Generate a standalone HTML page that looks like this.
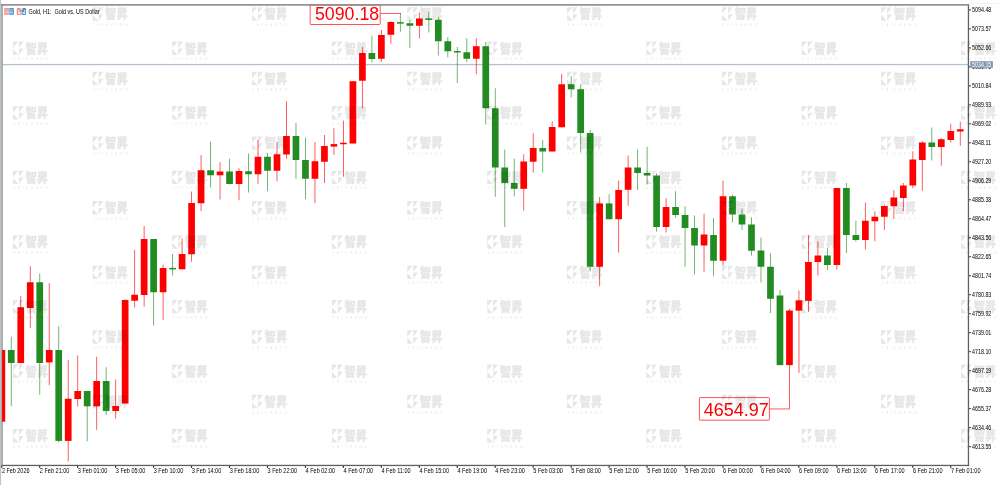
<!DOCTYPE html>
<html lang="zh"><head><meta charset="utf-8"><title>Gold, H1: Gold vs. US Dollar</title>
<style>html,body{margin:0;padding:0;background:#fff;overflow:hidden}body{width:999px;height:485px;position:relative}svg{display:block;position:absolute;left:0;top:0}text{font-family:"Liberation Sans", sans-serif}.ax{fill:#000}.wm text{font-family:"Liberation Sans", "Noto Sans CJK SC", sans-serif}.wk{fill:#000;opacity:0.096}.zh{font-size:11.2px;font-weight:900;stroke:#000;stroke-width:0.4px;stroke-linejoin:miter}.en{font-size:3.5px;fill:#000;fill-opacity:0.11}</style></head><body>
<svg width="999" height="485" viewBox="0 0 999 485">
<rect width="999" height="485" fill="#fff"/>
<rect x="3" y="63.9" width="965" height="1.3" fill="#b5c1cf"/>
<g id="candles">
<rect x="1.33" y="350" width="0.9" height="71.7" fill="#ff0000" fill-opacity="0.7"/>
<rect x="10.82" y="336.8" width="0.9" height="69.5" fill="#228b22" fill-opacity="0.7"/>
<rect x="7.92" y="350" width="6.7" height="13" fill="#228b22"/>
<rect x="20.31" y="296" width="0.9" height="67.5" fill="#ff0000" fill-opacity="0.7"/>
<rect x="17.41" y="307.25" width="6.7" height="55.75" fill="#ff0000"/>
<rect x="29.8" y="266" width="0.9" height="62" fill="#ff0000" fill-opacity="0.7"/>
<rect x="26.9" y="282.25" width="6.7" height="25.75" fill="#ff0000"/>
<rect x="39.29" y="273.5" width="0.9" height="121.25" fill="#228b22" fill-opacity="0.7"/>
<rect x="36.39" y="282.25" width="6.7" height="80.75" fill="#228b22"/>
<rect x="48.78" y="283" width="0.9" height="102.25" fill="#ff0000" fill-opacity="0.7"/>
<rect x="45.88" y="350" width="6.7" height="12.4" fill="#ff0000"/>
<rect x="58.27" y="326.25" width="0.9" height="116.15" fill="#228b22" fill-opacity="0.7"/>
<rect x="55.37" y="350" width="6.7" height="90.9" fill="#228b22"/>
<rect x="67.76" y="360" width="0.9" height="101.5" fill="#ff0000" fill-opacity="0.7"/>
<rect x="64.86" y="398.75" width="6.7" height="42.15" fill="#ff0000"/>
<rect x="77.25" y="355.5" width="0.9" height="51" fill="#ff0000" fill-opacity="0.7"/>
<rect x="74.35" y="391" width="6.7" height="8" fill="#ff0000"/>
<rect x="86.74" y="391" width="0.9" height="50.4" fill="#228b22" fill-opacity="0.7"/>
<rect x="83.84" y="391" width="6.7" height="15.3" fill="#228b22"/>
<rect x="96.23" y="356.75" width="0.9" height="73.15" fill="#ff0000" fill-opacity="0.7"/>
<rect x="93.33" y="381" width="6.7" height="25.3" fill="#ff0000"/>
<rect x="105.72" y="367.25" width="0.9" height="47.75" fill="#228b22" fill-opacity="0.7"/>
<rect x="102.82" y="381" width="6.7" height="30" fill="#228b22"/>
<rect x="115.21" y="379.5" width="0.9" height="39.2" fill="#ff0000" fill-opacity="0.7"/>
<rect x="112.31" y="406" width="6.7" height="5" fill="#ff0000"/>
<rect x="124.7" y="299.25" width="0.9" height="104.25" fill="#ff0000" fill-opacity="0.7"/>
<rect x="121.8" y="300" width="6.7" height="103.5" fill="#ff0000"/>
<rect x="134.19" y="249.75" width="0.9" height="57.75" fill="#ff0000" fill-opacity="0.7"/>
<rect x="131.29" y="294.75" width="6.7" height="6" fill="#ff0000"/>
<rect x="143.68" y="226" width="0.9" height="80.75" fill="#ff0000" fill-opacity="0.7"/>
<rect x="140.78" y="239" width="6.7" height="56" fill="#ff0000"/>
<rect x="153.17" y="239" width="0.9" height="86.5" fill="#228b22" fill-opacity="0.7"/>
<rect x="150.27" y="239" width="6.7" height="53.25" fill="#228b22"/>
<rect x="162.66" y="264.75" width="0.9" height="55" fill="#ff0000" fill-opacity="0.7"/>
<rect x="159.76" y="268" width="6.7" height="24.25" fill="#ff0000"/>
<rect x="172.15" y="254" width="0.9" height="21.5" fill="#228b22" fill-opacity="0.7"/>
<rect x="169.25" y="267.88" width="6.7" height="1.5" fill="#228b22"/>
<rect x="181.64" y="238.5" width="0.9" height="30.75" fill="#ff0000" fill-opacity="0.7"/>
<rect x="178.74" y="254" width="6.7" height="15.25" fill="#ff0000"/>
<rect x="191.13" y="191.5" width="0.9" height="70.25" fill="#ff0000" fill-opacity="0.7"/>
<rect x="188.23" y="203" width="6.7" height="51.25" fill="#ff0000"/>
<rect x="200.62" y="155" width="0.9" height="56" fill="#ff0000" fill-opacity="0.7"/>
<rect x="197.72" y="170.25" width="6.7" height="33" fill="#ff0000"/>
<rect x="210.11" y="141.5" width="0.9" height="46" fill="#228b22" fill-opacity="0.7"/>
<rect x="207.21" y="170.25" width="6.7" height="5" fill="#228b22"/>
<rect x="219.6" y="162" width="0.9" height="37.5" fill="#ff0000" fill-opacity="0.7"/>
<rect x="216.7" y="171.5" width="6.7" height="3.75" fill="#ff0000"/>
<rect x="229.09" y="158.75" width="0.9" height="25.75" fill="#228b22" fill-opacity="0.7"/>
<rect x="226.19" y="171.5" width="6.7" height="12.5" fill="#228b22"/>
<rect x="238.58" y="168.25" width="0.9" height="32" fill="#ff0000" fill-opacity="0.7"/>
<rect x="235.68" y="171" width="6.7" height="13" fill="#ff0000"/>
<rect x="248.07" y="153.5" width="0.9" height="39" fill="#228b22" fill-opacity="0.7"/>
<rect x="245.17" y="171.25" width="6.7" height="3" fill="#228b22"/>
<rect x="257.56" y="140" width="0.9" height="43.75" fill="#ff0000" fill-opacity="0.7"/>
<rect x="254.66" y="156.75" width="6.7" height="17.5" fill="#ff0000"/>
<rect x="267.05" y="153" width="0.9" height="38.25" fill="#228b22" fill-opacity="0.7"/>
<rect x="264.15" y="156.75" width="6.7" height="14" fill="#228b22"/>
<rect x="276.54" y="142" width="0.9" height="39.25" fill="#ff0000" fill-opacity="0.7"/>
<rect x="273.64" y="154.25" width="6.7" height="16.5" fill="#ff0000"/>
<rect x="286.03" y="101.25" width="0.9" height="57.5" fill="#ff0000" fill-opacity="0.7"/>
<rect x="283.13" y="136" width="6.7" height="18.5" fill="#ff0000"/>
<rect x="295.52" y="123" width="0.9" height="55.75" fill="#228b22" fill-opacity="0.7"/>
<rect x="292.62" y="136" width="6.7" height="24" fill="#228b22"/>
<rect x="305.01" y="137.5" width="0.9" height="61.75" fill="#228b22" fill-opacity="0.7"/>
<rect x="302.11" y="160" width="6.7" height="18.75" fill="#228b22"/>
<rect x="314.5" y="142" width="0.9" height="61" fill="#ff0000" fill-opacity="0.7"/>
<rect x="311.6" y="161.25" width="6.7" height="17.5" fill="#ff0000"/>
<rect x="323.99" y="135" width="0.9" height="48" fill="#ff0000" fill-opacity="0.7"/>
<rect x="321.09" y="146" width="6.7" height="15.75" fill="#ff0000"/>
<rect x="333.48" y="128.25" width="0.9" height="26.75" fill="#ff0000" fill-opacity="0.7"/>
<rect x="330.58" y="144.1" width="6.7" height="2.5" fill="#ff0000"/>
<rect x="342.97" y="120.5" width="0.9" height="56.25" fill="#ff0000" fill-opacity="0.7"/>
<rect x="340.07" y="142.75" width="6.7" height="1.5" fill="#ff0000"/>
<rect x="352.46" y="81.25" width="0.9" height="62.25" fill="#ff0000" fill-opacity="0.7"/>
<rect x="349.56" y="81.25" width="6.7" height="62.25" fill="#ff0000"/>
<rect x="361.95" y="47" width="0.9" height="61.5" fill="#ff0000" fill-opacity="0.7"/>
<rect x="359.05" y="53" width="6.7" height="27.75" fill="#ff0000"/>
<rect x="371.44" y="35.75" width="0.9" height="26.75" fill="#228b22" fill-opacity="0.7"/>
<rect x="368.54" y="53" width="6.7" height="6" fill="#228b22"/>
<rect x="380.93" y="30" width="0.9" height="32" fill="#ff0000" fill-opacity="0.7"/>
<rect x="378.03" y="35" width="6.7" height="23.75" fill="#ff0000"/>
<rect x="390.42" y="21.25" width="0.9" height="22.5" fill="#ff0000" fill-opacity="0.7"/>
<rect x="387.52" y="22" width="6.7" height="12.75" fill="#ff0000"/>
<rect x="399.91" y="13" width="0.9" height="18.75" fill="#228b22" fill-opacity="0.7"/>
<rect x="397.01" y="22.12" width="6.7" height="1.5" fill="#228b22"/>
<rect x="409.4" y="20" width="0.9" height="28.25" fill="#228b22" fill-opacity="0.7"/>
<rect x="406.5" y="23.25" width="6.7" height="2.5" fill="#228b22"/>
<rect x="418.89" y="12.5" width="0.9" height="26" fill="#ff0000" fill-opacity="0.7"/>
<rect x="415.99" y="18.5" width="6.7" height="7.25" fill="#ff0000"/>
<rect x="428.38" y="11.75" width="0.9" height="20.75" fill="#228b22" fill-opacity="0.7"/>
<rect x="425.48" y="18.38" width="6.7" height="1.5" fill="#228b22"/>
<rect x="437.87" y="17" width="0.9" height="38.5" fill="#228b22" fill-opacity="0.7"/>
<rect x="434.97" y="19.75" width="6.7" height="21.5" fill="#228b22"/>
<rect x="447.36" y="37" width="0.9" height="20.5" fill="#228b22" fill-opacity="0.7"/>
<rect x="444.46" y="41.25" width="6.7" height="10" fill="#228b22"/>
<rect x="456.85" y="47" width="0.9" height="36" fill="#228b22" fill-opacity="0.7"/>
<rect x="453.95" y="51" width="6.7" height="1.5" fill="#228b22"/>
<rect x="466.34" y="38.25" width="0.9" height="23.75" fill="#228b22" fill-opacity="0.7"/>
<rect x="463.44" y="52.25" width="6.7" height="6.5" fill="#228b22"/>
<rect x="475.83" y="38.25" width="0.9" height="36" fill="#ff0000" fill-opacity="0.7"/>
<rect x="472.93" y="46.25" width="6.7" height="12.5" fill="#ff0000"/>
<rect x="485.32" y="42" width="0.9" height="82.5" fill="#228b22" fill-opacity="0.7"/>
<rect x="482.42" y="46.25" width="6.7" height="62" fill="#228b22"/>
<rect x="494.81" y="88.25" width="0.9" height="108.5" fill="#228b22" fill-opacity="0.7"/>
<rect x="491.91" y="108.25" width="6.7" height="59.25" fill="#228b22"/>
<rect x="504.3" y="149.5" width="0.9" height="77.5" fill="#228b22" fill-opacity="0.7"/>
<rect x="501.4" y="167.5" width="6.7" height="15.4" fill="#228b22"/>
<rect x="513.79" y="158.75" width="0.9" height="37.65" fill="#228b22" fill-opacity="0.7"/>
<rect x="510.89" y="182.9" width="6.7" height="5.9" fill="#228b22"/>
<rect x="523.28" y="154.25" width="0.9" height="56.5" fill="#ff0000" fill-opacity="0.7"/>
<rect x="520.38" y="161.5" width="6.7" height="27.3" fill="#ff0000"/>
<rect x="532.77" y="133.25" width="0.9" height="39.25" fill="#ff0000" fill-opacity="0.7"/>
<rect x="529.87" y="148" width="6.7" height="13.75" fill="#ff0000"/>
<rect x="542.26" y="140" width="0.9" height="32.5" fill="#228b22" fill-opacity="0.7"/>
<rect x="539.36" y="148" width="6.7" height="3.5" fill="#228b22"/>
<rect x="551.75" y="121.25" width="0.9" height="30.25" fill="#ff0000" fill-opacity="0.7"/>
<rect x="548.85" y="127" width="6.7" height="24.5" fill="#ff0000"/>
<rect x="561.24" y="73.75" width="0.9" height="53.5" fill="#ff0000" fill-opacity="0.7"/>
<rect x="558.34" y="84.25" width="6.7" height="43" fill="#ff0000"/>
<rect x="570.73" y="76.25" width="0.9" height="21.25" fill="#228b22" fill-opacity="0.7"/>
<rect x="567.83" y="84.25" width="6.7" height="5" fill="#228b22"/>
<rect x="580.22" y="84.5" width="0.9" height="68" fill="#228b22" fill-opacity="0.7"/>
<rect x="577.32" y="89.25" width="6.7" height="43.75" fill="#228b22"/>
<rect x="589.71" y="130" width="0.9" height="140.75" fill="#228b22" fill-opacity="0.7"/>
<rect x="586.81" y="133" width="6.7" height="133.75" fill="#228b22"/>
<rect x="599.2" y="197" width="0.9" height="89.25" fill="#ff0000" fill-opacity="0.7"/>
<rect x="596.3" y="203.4" width="6.7" height="63.35" fill="#ff0000"/>
<rect x="608.69" y="194.25" width="0.9" height="25" fill="#228b22" fill-opacity="0.7"/>
<rect x="605.79" y="203.4" width="6.7" height="15.85" fill="#228b22"/>
<rect x="618.18" y="180.5" width="0.9" height="72" fill="#ff0000" fill-opacity="0.7"/>
<rect x="615.28" y="190" width="6.7" height="29.25" fill="#ff0000"/>
<rect x="627.67" y="155.5" width="0.9" height="50.25" fill="#ff0000" fill-opacity="0.7"/>
<rect x="624.77" y="167.5" width="6.7" height="22.25" fill="#ff0000"/>
<rect x="637.16" y="149.5" width="0.9" height="40.5" fill="#228b22" fill-opacity="0.7"/>
<rect x="634.26" y="167.5" width="6.7" height="5.5" fill="#228b22"/>
<rect x="646.65" y="146.75" width="0.9" height="37.75" fill="#228b22" fill-opacity="0.7"/>
<rect x="643.75" y="173" width="6.7" height="2.5" fill="#228b22"/>
<rect x="656.14" y="173.25" width="0.9" height="58.5" fill="#228b22" fill-opacity="0.7"/>
<rect x="653.24" y="175.5" width="6.7" height="51.5" fill="#228b22"/>
<rect x="665.63" y="198.25" width="0.9" height="34.25" fill="#ff0000" fill-opacity="0.7"/>
<rect x="662.73" y="207" width="6.7" height="20" fill="#ff0000"/>
<rect x="675.12" y="191.25" width="0.9" height="26.25" fill="#228b22" fill-opacity="0.7"/>
<rect x="672.22" y="207" width="6.7" height="8" fill="#228b22"/>
<rect x="684.61" y="206.25" width="0.9" height="60.5" fill="#228b22" fill-opacity="0.7"/>
<rect x="681.71" y="215" width="6.7" height="13" fill="#228b22"/>
<rect x="694.1" y="215.5" width="0.9" height="59" fill="#228b22" fill-opacity="0.7"/>
<rect x="691.2" y="228" width="6.7" height="17.5" fill="#228b22"/>
<rect x="703.59" y="213.75" width="0.9" height="58" fill="#ff0000" fill-opacity="0.7"/>
<rect x="700.69" y="234.5" width="6.7" height="11" fill="#ff0000"/>
<rect x="713.08" y="218.25" width="0.9" height="58" fill="#228b22" fill-opacity="0.7"/>
<rect x="710.18" y="235" width="6.7" height="25.75" fill="#228b22"/>
<rect x="722.57" y="180.5" width="0.9" height="85" fill="#ff0000" fill-opacity="0.7"/>
<rect x="719.67" y="196.25" width="6.7" height="64.5" fill="#ff0000"/>
<rect x="732.06" y="194.5" width="0.9" height="28" fill="#228b22" fill-opacity="0.7"/>
<rect x="729.16" y="196.25" width="6.7" height="18.25" fill="#228b22"/>
<rect x="741.55" y="208.75" width="0.9" height="21.25" fill="#228b22" fill-opacity="0.7"/>
<rect x="738.65" y="214.5" width="6.7" height="10" fill="#228b22"/>
<rect x="751.04" y="217.5" width="0.9" height="38" fill="#228b22" fill-opacity="0.7"/>
<rect x="748.14" y="224.5" width="6.7" height="26.25" fill="#228b22"/>
<rect x="760.53" y="237.5" width="0.9" height="45" fill="#228b22" fill-opacity="0.7"/>
<rect x="757.63" y="250.5" width="6.7" height="16.25" fill="#228b22"/>
<rect x="770.02" y="253.25" width="0.9" height="59.75" fill="#228b22" fill-opacity="0.7"/>
<rect x="767.12" y="266.75" width="6.7" height="32" fill="#228b22"/>
<rect x="779.51" y="290" width="0.9" height="75.1" fill="#228b22" fill-opacity="0.7"/>
<rect x="776.61" y="295.5" width="6.7" height="69.6" fill="#228b22"/>
<rect x="789" y="308.75" width="0.9" height="100.65" fill="#ff0000" fill-opacity="0.7"/>
<rect x="786.1" y="310.5" width="6.7" height="54.6" fill="#ff0000"/>
<rect x="798.49" y="290.5" width="0.9" height="82.5" fill="#ff0000" fill-opacity="0.7"/>
<rect x="795.59" y="300.3" width="6.7" height="10.3" fill="#ff0000"/>
<rect x="807.98" y="235" width="0.9" height="76.75" fill="#ff0000" fill-opacity="0.7"/>
<rect x="805.08" y="262" width="6.7" height="38.8" fill="#ff0000"/>
<rect x="817.47" y="241.25" width="0.9" height="34.25" fill="#ff0000" fill-opacity="0.7"/>
<rect x="814.57" y="255.5" width="6.7" height="6.5" fill="#ff0000"/>
<rect x="826.96" y="248" width="0.9" height="22" fill="#228b22" fill-opacity="0.7"/>
<rect x="824.06" y="255.5" width="6.7" height="9.5" fill="#228b22"/>
<rect x="836.45" y="188" width="0.9" height="81.5" fill="#ff0000" fill-opacity="0.7"/>
<rect x="833.55" y="188" width="6.7" height="77" fill="#ff0000"/>
<rect x="845.94" y="183" width="0.9" height="70" fill="#228b22" fill-opacity="0.7"/>
<rect x="843.04" y="188" width="6.7" height="47" fill="#228b22"/>
<rect x="855.43" y="220.75" width="0.9" height="21" fill="#228b22" fill-opacity="0.7"/>
<rect x="852.53" y="235" width="6.7" height="5" fill="#228b22"/>
<rect x="864.92" y="202.5" width="0.9" height="47" fill="#ff0000" fill-opacity="0.7"/>
<rect x="862.02" y="220.75" width="6.7" height="19.25" fill="#ff0000"/>
<rect x="874.41" y="211.25" width="0.9" height="30" fill="#ff0000" fill-opacity="0.7"/>
<rect x="871.51" y="216.75" width="6.7" height="4.5" fill="#ff0000"/>
<rect x="883.9" y="204.5" width="0.9" height="25.5" fill="#ff0000" fill-opacity="0.7"/>
<rect x="881" y="206" width="6.7" height="10.75" fill="#ff0000"/>
<rect x="893.39" y="190" width="0.9" height="28.75" fill="#ff0000" fill-opacity="0.7"/>
<rect x="890.49" y="197.5" width="6.7" height="8.75" fill="#ff0000"/>
<rect x="902.88" y="183" width="0.9" height="28.25" fill="#ff0000" fill-opacity="0.7"/>
<rect x="899.98" y="185.5" width="6.7" height="12.5" fill="#ff0000"/>
<rect x="912.37" y="151.25" width="0.9" height="37" fill="#ff0000" fill-opacity="0.7"/>
<rect x="909.47" y="159.5" width="6.7" height="26" fill="#ff0000"/>
<rect x="921.86" y="141.25" width="0.9" height="49.5" fill="#ff0000" fill-opacity="0.7"/>
<rect x="918.96" y="142.5" width="6.7" height="17.5" fill="#ff0000"/>
<rect x="931.35" y="127.5" width="0.9" height="33" fill="#228b22" fill-opacity="0.7"/>
<rect x="928.45" y="142.5" width="6.7" height="4.5" fill="#228b22"/>
<rect x="940.84" y="138" width="0.9" height="27.75" fill="#ff0000" fill-opacity="0.7"/>
<rect x="937.94" y="139.25" width="6.7" height="7.75" fill="#ff0000"/>
<rect x="950.33" y="123.75" width="0.9" height="18.75" fill="#ff0000" fill-opacity="0.7"/>
<rect x="947.43" y="131" width="6.7" height="9" fill="#ff0000"/>
<rect x="959.82" y="121.75" width="0.9" height="24" fill="#ff0000" fill-opacity="0.7"/>
<rect x="956.92" y="129.25" width="6.7" height="2.25" fill="#ff0000"/>
</g>
<rect x="0" y="0" width="1.1" height="485" fill="#b9c6c6"/>
<rect x="1.1" y="4.2" width="1.8" height="462" fill="#a6a6a6"/>
<rect x="967.8" y="4.1" width="1.3" height="462" fill="#606060"/>
<rect x="1.5" y="464.8" width="967.6" height="1.3" fill="#606060"/>
<rect x="2.1" y="350" width="3.1" height="71.7" fill="#ff0000"/>
<rect x="969" y="2.9" width="30" height="0.9" fill="#f1f1f1"/>
<g class="ax">
<rect x="969" y="9.4" width="1.9" height="1" fill="#333"/>
<text transform="translate(972,12.2) scale(0.958,1.15)" font-size="5.6" xml:space="preserve">5094.48</text>
<rect x="969" y="28.39" width="1.9" height="1" fill="#333"/>
<text transform="translate(972,31.19) scale(0.958,1.15)" font-size="5.6" xml:space="preserve">5073.57</text>
<rect x="969" y="47.37" width="1.9" height="1" fill="#333"/>
<text transform="translate(972,50.17) scale(0.958,1.15)" font-size="5.6" xml:space="preserve">5052.66</text>
<rect x="969" y="66.36" width="1.9" height="1" fill="#333"/>
<text transform="translate(972,69.16) scale(0.958,1.15)" font-size="5.6" xml:space="preserve">5031.75</text>
<rect x="969" y="85.35" width="1.9" height="1" fill="#333"/>
<text transform="translate(972,88.15) scale(0.958,1.15)" font-size="5.6" xml:space="preserve">5010.84</text>
<rect x="969" y="104.33" width="1.9" height="1" fill="#333"/>
<text transform="translate(972,107.13) scale(0.958,1.15)" font-size="5.6" xml:space="preserve">4989.93</text>
<rect x="969" y="123.32" width="1.9" height="1" fill="#333"/>
<text transform="translate(972,126.12) scale(0.958,1.15)" font-size="5.6" xml:space="preserve">4969.02</text>
<rect x="969" y="142.31" width="1.9" height="1" fill="#333"/>
<text transform="translate(972,145.11) scale(0.958,1.15)" font-size="5.6" xml:space="preserve">4948.11</text>
<rect x="969" y="161.3" width="1.9" height="1" fill="#333"/>
<text transform="translate(972,164.1) scale(0.958,1.15)" font-size="5.6" xml:space="preserve">4927.20</text>
<rect x="969" y="180.28" width="1.9" height="1" fill="#333"/>
<text transform="translate(972,183.08) scale(0.958,1.15)" font-size="5.6" xml:space="preserve">4906.29</text>
<rect x="969" y="199.27" width="1.9" height="1" fill="#333"/>
<text transform="translate(972,202.07) scale(0.958,1.15)" font-size="5.6" xml:space="preserve">4885.38</text>
<rect x="969" y="218.26" width="1.9" height="1" fill="#333"/>
<text transform="translate(972,221.06) scale(0.958,1.15)" font-size="5.6" xml:space="preserve">4864.47</text>
<rect x="969" y="237.24" width="1.9" height="1" fill="#333"/>
<text transform="translate(972,240.04) scale(0.958,1.15)" font-size="5.6" xml:space="preserve">4843.56</text>
<rect x="969" y="256.23" width="1.9" height="1" fill="#333"/>
<text transform="translate(972,259.03) scale(0.958,1.15)" font-size="5.6" xml:space="preserve">4822.65</text>
<rect x="969" y="275.22" width="1.9" height="1" fill="#333"/>
<text transform="translate(972,278.02) scale(0.958,1.15)" font-size="5.6" xml:space="preserve">4801.74</text>
<rect x="969" y="294.2" width="1.9" height="1" fill="#333"/>
<text transform="translate(972,297) scale(0.958,1.15)" font-size="5.6" xml:space="preserve">4780.83</text>
<rect x="969" y="313.19" width="1.9" height="1" fill="#333"/>
<text transform="translate(972,315.99) scale(0.958,1.15)" font-size="5.6" xml:space="preserve">4759.92</text>
<rect x="969" y="332.18" width="1.9" height="1" fill="#333"/>
<text transform="translate(972,334.98) scale(0.958,1.15)" font-size="5.6" xml:space="preserve">4739.01</text>
<rect x="969" y="351.17" width="1.9" height="1" fill="#333"/>
<text transform="translate(972,353.97) scale(0.958,1.15)" font-size="5.6" xml:space="preserve">4718.10</text>
<rect x="969" y="370.15" width="1.9" height="1" fill="#333"/>
<text transform="translate(972,372.95) scale(0.958,1.15)" font-size="5.6" xml:space="preserve">4697.19</text>
<rect x="969" y="389.14" width="1.9" height="1" fill="#333"/>
<text transform="translate(972,391.94) scale(0.958,1.15)" font-size="5.6" xml:space="preserve">4676.28</text>
<rect x="969" y="408.13" width="1.9" height="1" fill="#333"/>
<text transform="translate(972,410.93) scale(0.958,1.15)" font-size="5.6" xml:space="preserve">4655.37</text>
<rect x="969" y="427.11" width="1.9" height="1" fill="#333"/>
<text transform="translate(972,429.91) scale(0.958,1.15)" font-size="5.6" xml:space="preserve">4634.46</text>
<rect x="969" y="446.1" width="1.9" height="1" fill="#333"/>
<text transform="translate(972,448.9) scale(0.958,1.15)" font-size="5.6" xml:space="preserve">4613.55</text>
</g>
<rect x="970.3" y="61.2" width="22.6" height="6.6" fill="#7d95ad"/>
<text transform="translate(972,66.8) scale(0.958,1.15)" font-size="5.6" xml:space="preserve" style="fill:#fff">5034.15</text>
<g class="ax">
<rect x="1.18" y="466" width="1.1" height="1.8" fill="#222"/>
<text transform="translate(1.88,473.3) scale(0.976,1.2)" font-size="5.6" xml:space="preserve">2 Feb 2026</text>
<rect x="39.14" y="466" width="1.1" height="1.8" fill="#222"/>
<text transform="translate(39.84,473.3) scale(0.991,1.2)" font-size="5.6" xml:space="preserve">2 Feb 21:00</text>
<rect x="77.1" y="466" width="1.1" height="1.8" fill="#222"/>
<text transform="translate(77.8,473.3) scale(0.991,1.2)" font-size="5.6" xml:space="preserve">3 Feb 01:00</text>
<rect x="115.06" y="466" width="1.1" height="1.8" fill="#222"/>
<text transform="translate(115.76,473.3) scale(0.991,1.2)" font-size="5.6" xml:space="preserve">3 Feb 05:00</text>
<rect x="153.02" y="466" width="1.1" height="1.8" fill="#222"/>
<text transform="translate(153.72,473.3) scale(0.991,1.2)" font-size="5.6" xml:space="preserve">3 Feb 10:00</text>
<rect x="190.98" y="466" width="1.1" height="1.8" fill="#222"/>
<text transform="translate(191.68,473.3) scale(0.991,1.2)" font-size="5.6" xml:space="preserve">3 Feb 14:00</text>
<rect x="228.94" y="466" width="1.1" height="1.8" fill="#222"/>
<text transform="translate(229.64,473.3) scale(0.991,1.2)" font-size="5.6" xml:space="preserve">3 Feb 18:00</text>
<rect x="266.9" y="466" width="1.1" height="1.8" fill="#222"/>
<text transform="translate(267.6,473.3) scale(0.991,1.2)" font-size="5.6" xml:space="preserve">3 Feb 22:00</text>
<rect x="304.86" y="466" width="1.1" height="1.8" fill="#222"/>
<text transform="translate(305.56,473.3) scale(0.991,1.2)" font-size="5.6" xml:space="preserve">4 Feb 02:00</text>
<rect x="342.82" y="466" width="1.1" height="1.8" fill="#222"/>
<text transform="translate(343.52,473.3) scale(0.991,1.2)" font-size="5.6" xml:space="preserve">4 Feb 07:00</text>
<rect x="380.78" y="466" width="1.1" height="1.8" fill="#222"/>
<text transform="translate(381.48,473.3) scale(0.991,1.2)" font-size="5.6" xml:space="preserve">4 Feb 11:00</text>
<rect x="418.74" y="466" width="1.1" height="1.8" fill="#222"/>
<text transform="translate(419.44,473.3) scale(0.991,1.2)" font-size="5.6" xml:space="preserve">4 Feb 15:00</text>
<rect x="456.7" y="466" width="1.1" height="1.8" fill="#222"/>
<text transform="translate(457.4,473.3) scale(0.991,1.2)" font-size="5.6" xml:space="preserve">4 Feb 19:00</text>
<rect x="494.66" y="466" width="1.1" height="1.8" fill="#222"/>
<text transform="translate(495.36,473.3) scale(0.991,1.2)" font-size="5.6" xml:space="preserve">4 Feb 23:00</text>
<rect x="532.62" y="466" width="1.1" height="1.8" fill="#222"/>
<text transform="translate(533.32,473.3) scale(0.991,1.2)" font-size="5.6" xml:space="preserve">5 Feb 03:00</text>
<rect x="570.58" y="466" width="1.1" height="1.8" fill="#222"/>
<text transform="translate(571.28,473.3) scale(0.991,1.2)" font-size="5.6" xml:space="preserve">5 Feb 08:00</text>
<rect x="608.54" y="466" width="1.1" height="1.8" fill="#222"/>
<text transform="translate(609.24,473.3) scale(0.991,1.2)" font-size="5.6" xml:space="preserve">5 Feb 12:00</text>
<rect x="646.5" y="466" width="1.1" height="1.8" fill="#222"/>
<text transform="translate(647.2,473.3) scale(0.991,1.2)" font-size="5.6" xml:space="preserve">5 Feb 16:00</text>
<rect x="684.46" y="466" width="1.1" height="1.8" fill="#222"/>
<text transform="translate(685.16,473.3) scale(0.991,1.2)" font-size="5.6" xml:space="preserve">5 Feb 20:00</text>
<rect x="722.42" y="466" width="1.1" height="1.8" fill="#222"/>
<text transform="translate(723.12,473.3) scale(0.991,1.2)" font-size="5.6" xml:space="preserve">6 Feb 00:00</text>
<rect x="760.38" y="466" width="1.1" height="1.8" fill="#222"/>
<text transform="translate(761.08,473.3) scale(0.991,1.2)" font-size="5.6" xml:space="preserve">6 Feb 04:00</text>
<rect x="798.34" y="466" width="1.1" height="1.8" fill="#222"/>
<text transform="translate(799.04,473.3) scale(0.991,1.2)" font-size="5.6" xml:space="preserve">6 Feb 09:00</text>
<rect x="836.3" y="466" width="1.1" height="1.8" fill="#222"/>
<text transform="translate(837,473.3) scale(0.991,1.2)" font-size="5.6" xml:space="preserve">6 Feb 13:00</text>
<rect x="874.26" y="466" width="1.1" height="1.8" fill="#222"/>
<text transform="translate(874.96,473.3) scale(0.991,1.2)" font-size="5.6" xml:space="preserve">6 Feb 17:00</text>
<rect x="912.22" y="466" width="1.1" height="1.8" fill="#222"/>
<text transform="translate(912.92,473.3) scale(0.991,1.2)" font-size="5.6" xml:space="preserve">6 Feb 21:00</text>
<rect x="950.18" y="466" width="1.1" height="1.8" fill="#222"/>
<text transform="translate(950.88,473.3) scale(0.991,1.2)" font-size="5.6" xml:space="preserve">7 Feb 01:00</text>
</g>
<g id="icons"><rect x="4.3" y="8.1" width="4.9" height="6.9" rx="1" fill="#f08a8a"/><rect x="9.1" y="8.1" width="4.8" height="6.9" rx="1" fill="#4a90cf"/><rect x="5.2" y="9.5" width="7.8" height="0.6" fill="#fff" fill-opacity="0.8"/><rect x="5.2" y="10.9" width="7.8" height="0.6" fill="#fff" fill-opacity="0.8"/><rect x="5.2" y="12.3" width="7.8" height="0.6" fill="#fff" fill-opacity="0.8"/><rect x="5.2" y="13.7" width="7.8" height="0.6" fill="#fff" fill-opacity="0.8"/><rect x="16.8" y="8.1" width="4.6" height="6.9" rx="1" fill="#f08a8a"/><rect x="21.6" y="8.1" width="4.4" height="6.9" rx="1" fill="#4a90cf"/><polygon points="18.2,9.6 19.2,9.6 19.2,11.6 20.6,12.2 20.6,14 18.2,14" fill="#fff" fill-opacity="0.8"/><polygon points="22.4,14 22.4,12.2 24.2,11.6 24.2,9.8 25.2,9.8 25.2,14" fill="#cfe8ff" fill-opacity="0.9"/><rect x="20.4" y="8.1" width="2.4" height="1.6" fill="#fff" fill-opacity="0.7"/></g>
<g class="ax"><text transform="translate(28.4,14.1) scale(0.978,1.15)" font-size="5.6" xml:space="preserve">Gold, H1:  Gold vs. US Dollar</text></g>
<rect x="380" y="13.1" width="20.9" height="0.9" fill="#ff0000" fill-opacity="0.7"/>
<rect x="769.5" y="408.5" width="19.5" height="0.9" fill="#ff0000" fill-opacity="0.7"/>
<rect x="310.2" y="5" width="70" height="19.5" rx="0.6" fill="#fff" stroke="#ff4040" stroke-width="0.9"/>
<text transform="translate(314.9,20.3) scale(0.979,1)" font-size="18.2" fill="#ff0000">5090.18</text>
<rect x="699.4" y="397.6" width="70" height="22.6" rx="0.6" fill="#fff" stroke="#ff4040" stroke-width="0.9"/>
<text transform="translate(703.7,416) scale(0.991,1)" font-size="18.2" fill="#ff0000">4654.97</text>
<rect x="1.1" y="4.1" width="968" height="1.6" fill="#8a8a8a"/>
<g id="watermarks">
<g class="wm" transform="translate(92.5,7.25)"><g class="wk"><path d="M0 0H5.5L0 6.6ZM6 0H10.7L6 6.4ZM6 6.9H10.7L6.2 13.4ZM0 7.3L5.6 13.4H0Z"/><text class="zh" x="12.6" y="10.2" transform="translate(0,-0.55) scale(1,1.135)" textLength="22.7" lengthAdjust="spacingAndGlyphs">智昇</text></g><text class="en" x="0.2" y="18.7" textLength="35" lengthAdjust="spacing">ZHISHENG</text></g>
<g class="wm" transform="translate(252,7.25)"><g class="wk"><path d="M0 0H5.5L0 6.6ZM6 0H10.7L6 6.4ZM6 6.9H10.7L6.2 13.4ZM0 7.3L5.6 13.4H0Z"/><text class="zh" x="12.6" y="10.2" transform="translate(0,-0.55) scale(1,1.135)" textLength="22.7" lengthAdjust="spacingAndGlyphs">智昇</text></g><text class="en" x="0.2" y="18.7" textLength="35" lengthAdjust="spacing">ZHISHENG</text></g>
<g class="wm" transform="translate(407.25,7.25)"><g class="wk"><path d="M0 0H5.5L0 6.6ZM6 0H10.7L6 6.4ZM6 6.9H10.7L6.2 13.4ZM0 7.3L5.6 13.4H0Z"/><text class="zh" x="12.6" y="10.2" transform="translate(0,-0.55) scale(1,1.135)" textLength="22.7" lengthAdjust="spacingAndGlyphs">智昇</text></g><text class="en" x="0.2" y="18.7" textLength="35" lengthAdjust="spacing">ZHISHENG</text></g>
<g class="wm" transform="translate(567,7.25)"><g class="wk"><path d="M0 0H5.5L0 6.6ZM6 0H10.7L6 6.4ZM6 6.9H10.7L6.2 13.4ZM0 7.3L5.6 13.4H0Z"/><text class="zh" x="12.6" y="10.2" transform="translate(0,-0.55) scale(1,1.135)" textLength="22.7" lengthAdjust="spacingAndGlyphs">智昇</text></g><text class="en" x="0.2" y="18.7" textLength="35" lengthAdjust="spacing">ZHISHENG</text></g>
<g class="wm" transform="translate(722.1,7.25)"><g class="wk"><path d="M0 0H5.5L0 6.6ZM6 0H10.7L6 6.4ZM6 6.9H10.7L6.2 13.4ZM0 7.3L5.6 13.4H0Z"/><text class="zh" x="12.6" y="10.2" transform="translate(0,-0.55) scale(1,1.135)" textLength="22.7" lengthAdjust="spacingAndGlyphs">智昇</text></g><text class="en" x="0.2" y="18.7" textLength="35" lengthAdjust="spacing">ZHISHENG</text></g>
<g class="wm" transform="translate(881.1,7.25)"><g class="wk"><path d="M0 0H5.5L0 6.6ZM6 0H10.7L6 6.4ZM6 6.9H10.7L6.2 13.4ZM0 7.3L5.6 13.4H0Z"/><text class="zh" x="12.6" y="10.2" transform="translate(0,-0.55) scale(1,1.135)" textLength="22.7" lengthAdjust="spacingAndGlyphs">智昇</text></g><text class="en" x="0.2" y="18.7" textLength="35" lengthAdjust="spacing">ZHISHENG</text></g>
<g class="wm" transform="translate(12.9,41.5)"><g class="wk"><path d="M0 0H5.5L0 6.6ZM6 0H10.7L6 6.4ZM6 6.9H10.7L6.2 13.4ZM0 7.3L5.6 13.4H0Z"/><text class="zh" x="12.6" y="10.2" transform="translate(0,-0.55) scale(1,1.135)" textLength="22.7" lengthAdjust="spacingAndGlyphs">智昇</text></g><text class="en" x="0.2" y="18.7" textLength="35" lengthAdjust="spacing">ZHISHENG</text></g>
<g class="wm" transform="translate(172.2,41.5)"><g class="wk"><path d="M0 0H5.5L0 6.6ZM6 0H10.7L6 6.4ZM6 6.9H10.7L6.2 13.4ZM0 7.3L5.6 13.4H0Z"/><text class="zh" x="12.6" y="10.2" transform="translate(0,-0.55) scale(1,1.135)" textLength="22.7" lengthAdjust="spacingAndGlyphs">智昇</text></g><text class="en" x="0.2" y="18.7" textLength="35" lengthAdjust="spacing">ZHISHENG</text></g>
<g class="wm" transform="translate(331.9,41.5)"><g class="wk"><path d="M0 0H5.5L0 6.6ZM6 0H10.7L6 6.4ZM6 6.9H10.7L6.2 13.4ZM0 7.3L5.6 13.4H0Z"/><text class="zh" x="12.6" y="10.2" transform="translate(0,-0.55) scale(1,1.135)" textLength="22.7" lengthAdjust="spacingAndGlyphs">智昇</text></g><text class="en" x="0.2" y="18.7" textLength="35" lengthAdjust="spacing">ZHISHENG</text></g>
<g class="wm" transform="translate(487.2,41.5)"><g class="wk"><path d="M0 0H5.5L0 6.6ZM6 0H10.7L6 6.4ZM6 6.9H10.7L6.2 13.4ZM0 7.3L5.6 13.4H0Z"/><text class="zh" x="12.6" y="10.2" transform="translate(0,-0.55) scale(1,1.135)" textLength="22.7" lengthAdjust="spacingAndGlyphs">智昇</text></g><text class="en" x="0.2" y="18.7" textLength="35" lengthAdjust="spacing">ZHISHENG</text></g>
<g class="wm" transform="translate(646.3,41.5)"><g class="wk"><path d="M0 0H5.5L0 6.6ZM6 0H10.7L6 6.4ZM6 6.9H10.7L6.2 13.4ZM0 7.3L5.6 13.4H0Z"/><text class="zh" x="12.6" y="10.2" transform="translate(0,-0.55) scale(1,1.135)" textLength="22.7" lengthAdjust="spacingAndGlyphs">智昇</text></g><text class="en" x="0.2" y="18.7" textLength="35" lengthAdjust="spacing">ZHISHENG</text></g>
<g class="wm" transform="translate(801.7,41.5)"><g class="wk"><path d="M0 0H5.5L0 6.6ZM6 0H10.7L6 6.4ZM6 6.9H10.7L6.2 13.4ZM0 7.3L5.6 13.4H0Z"/><text class="zh" x="12.6" y="10.2" transform="translate(0,-0.55) scale(1,1.135)" textLength="22.7" lengthAdjust="spacingAndGlyphs">智昇</text></g><text class="en" x="0.2" y="18.7" textLength="35" lengthAdjust="spacing">ZHISHENG</text></g>
<g class="wm" transform="translate(961.1,41.5)"><g class="wk"><path d="M0 0H5.5L0 6.6ZM6 0H10.7L6 6.4ZM6 6.9H10.7L6.2 13.4ZM0 7.3L5.6 13.4H0Z"/><text class="zh" x="12.6" y="10.2" transform="translate(0,-0.55) scale(1,1.135)" textLength="22.7" lengthAdjust="spacingAndGlyphs">智昇</text></g><text class="en" x="0.2" y="18.7" textLength="35" lengthAdjust="spacing">ZHISHENG</text></g>
<g class="wm" transform="translate(92.5,71.85)"><g class="wk"><path d="M0 0H5.5L0 6.6ZM6 0H10.7L6 6.4ZM6 6.9H10.7L6.2 13.4ZM0 7.3L5.6 13.4H0Z"/><text class="zh" x="12.6" y="10.2" transform="translate(0,-0.55) scale(1,1.135)" textLength="22.7" lengthAdjust="spacingAndGlyphs">智昇</text></g><text class="en" x="0.2" y="18.7" textLength="35" lengthAdjust="spacing">ZHISHENG</text></g>
<g class="wm" transform="translate(252,71.85)"><g class="wk"><path d="M0 0H5.5L0 6.6ZM6 0H10.7L6 6.4ZM6 6.9H10.7L6.2 13.4ZM0 7.3L5.6 13.4H0Z"/><text class="zh" x="12.6" y="10.2" transform="translate(0,-0.55) scale(1,1.135)" textLength="22.7" lengthAdjust="spacingAndGlyphs">智昇</text></g><text class="en" x="0.2" y="18.7" textLength="35" lengthAdjust="spacing">ZHISHENG</text></g>
<g class="wm" transform="translate(407.25,71.85)"><g class="wk"><path d="M0 0H5.5L0 6.6ZM6 0H10.7L6 6.4ZM6 6.9H10.7L6.2 13.4ZM0 7.3L5.6 13.4H0Z"/><text class="zh" x="12.6" y="10.2" transform="translate(0,-0.55) scale(1,1.135)" textLength="22.7" lengthAdjust="spacingAndGlyphs">智昇</text></g><text class="en" x="0.2" y="18.7" textLength="35" lengthAdjust="spacing">ZHISHENG</text></g>
<g class="wm" transform="translate(567,71.85)"><g class="wk"><path d="M0 0H5.5L0 6.6ZM6 0H10.7L6 6.4ZM6 6.9H10.7L6.2 13.4ZM0 7.3L5.6 13.4H0Z"/><text class="zh" x="12.6" y="10.2" transform="translate(0,-0.55) scale(1,1.135)" textLength="22.7" lengthAdjust="spacingAndGlyphs">智昇</text></g><text class="en" x="0.2" y="18.7" textLength="35" lengthAdjust="spacing">ZHISHENG</text></g>
<g class="wm" transform="translate(722.1,71.85)"><g class="wk"><path d="M0 0H5.5L0 6.6ZM6 0H10.7L6 6.4ZM6 6.9H10.7L6.2 13.4ZM0 7.3L5.6 13.4H0Z"/><text class="zh" x="12.6" y="10.2" transform="translate(0,-0.55) scale(1,1.135)" textLength="22.7" lengthAdjust="spacingAndGlyphs">智昇</text></g><text class="en" x="0.2" y="18.7" textLength="35" lengthAdjust="spacing">ZHISHENG</text></g>
<g class="wm" transform="translate(881.1,71.85)"><g class="wk"><path d="M0 0H5.5L0 6.6ZM6 0H10.7L6 6.4ZM6 6.9H10.7L6.2 13.4ZM0 7.3L5.6 13.4H0Z"/><text class="zh" x="12.6" y="10.2" transform="translate(0,-0.55) scale(1,1.135)" textLength="22.7" lengthAdjust="spacingAndGlyphs">智昇</text></g><text class="en" x="0.2" y="18.7" textLength="35" lengthAdjust="spacing">ZHISHENG</text></g>
<g class="wm" transform="translate(12.9,106.1)"><g class="wk"><path d="M0 0H5.5L0 6.6ZM6 0H10.7L6 6.4ZM6 6.9H10.7L6.2 13.4ZM0 7.3L5.6 13.4H0Z"/><text class="zh" x="12.6" y="10.2" transform="translate(0,-0.55) scale(1,1.135)" textLength="22.7" lengthAdjust="spacingAndGlyphs">智昇</text></g><text class="en" x="0.2" y="18.7" textLength="35" lengthAdjust="spacing">ZHISHENG</text></g>
<g class="wm" transform="translate(172.2,106.1)"><g class="wk"><path d="M0 0H5.5L0 6.6ZM6 0H10.7L6 6.4ZM6 6.9H10.7L6.2 13.4ZM0 7.3L5.6 13.4H0Z"/><text class="zh" x="12.6" y="10.2" transform="translate(0,-0.55) scale(1,1.135)" textLength="22.7" lengthAdjust="spacingAndGlyphs">智昇</text></g><text class="en" x="0.2" y="18.7" textLength="35" lengthAdjust="spacing">ZHISHENG</text></g>
<g class="wm" transform="translate(331.9,106.1)"><g class="wk"><path d="M0 0H5.5L0 6.6ZM6 0H10.7L6 6.4ZM6 6.9H10.7L6.2 13.4ZM0 7.3L5.6 13.4H0Z"/><text class="zh" x="12.6" y="10.2" transform="translate(0,-0.55) scale(1,1.135)" textLength="22.7" lengthAdjust="spacingAndGlyphs">智昇</text></g><text class="en" x="0.2" y="18.7" textLength="35" lengthAdjust="spacing">ZHISHENG</text></g>
<g class="wm" transform="translate(487.2,106.1)"><g class="wk"><path d="M0 0H5.5L0 6.6ZM6 0H10.7L6 6.4ZM6 6.9H10.7L6.2 13.4ZM0 7.3L5.6 13.4H0Z"/><text class="zh" x="12.6" y="10.2" transform="translate(0,-0.55) scale(1,1.135)" textLength="22.7" lengthAdjust="spacingAndGlyphs">智昇</text></g><text class="en" x="0.2" y="18.7" textLength="35" lengthAdjust="spacing">ZHISHENG</text></g>
<g class="wm" transform="translate(646.3,106.1)"><g class="wk"><path d="M0 0H5.5L0 6.6ZM6 0H10.7L6 6.4ZM6 6.9H10.7L6.2 13.4ZM0 7.3L5.6 13.4H0Z"/><text class="zh" x="12.6" y="10.2" transform="translate(0,-0.55) scale(1,1.135)" textLength="22.7" lengthAdjust="spacingAndGlyphs">智昇</text></g><text class="en" x="0.2" y="18.7" textLength="35" lengthAdjust="spacing">ZHISHENG</text></g>
<g class="wm" transform="translate(801.7,106.1)"><g class="wk"><path d="M0 0H5.5L0 6.6ZM6 0H10.7L6 6.4ZM6 6.9H10.7L6.2 13.4ZM0 7.3L5.6 13.4H0Z"/><text class="zh" x="12.6" y="10.2" transform="translate(0,-0.55) scale(1,1.135)" textLength="22.7" lengthAdjust="spacingAndGlyphs">智昇</text></g><text class="en" x="0.2" y="18.7" textLength="35" lengthAdjust="spacing">ZHISHENG</text></g>
<g class="wm" transform="translate(961.1,106.1)"><g class="wk"><path d="M0 0H5.5L0 6.6ZM6 0H10.7L6 6.4ZM6 6.9H10.7L6.2 13.4ZM0 7.3L5.6 13.4H0Z"/><text class="zh" x="12.6" y="10.2" transform="translate(0,-0.55) scale(1,1.135)" textLength="22.7" lengthAdjust="spacingAndGlyphs">智昇</text></g><text class="en" x="0.2" y="18.7" textLength="35" lengthAdjust="spacing">ZHISHENG</text></g>
<g class="wm" transform="translate(92.5,136.45)"><g class="wk"><path d="M0 0H5.5L0 6.6ZM6 0H10.7L6 6.4ZM6 6.9H10.7L6.2 13.4ZM0 7.3L5.6 13.4H0Z"/><text class="zh" x="12.6" y="10.2" transform="translate(0,-0.55) scale(1,1.135)" textLength="22.7" lengthAdjust="spacingAndGlyphs">智昇</text></g><text class="en" x="0.2" y="18.7" textLength="35" lengthAdjust="spacing">ZHISHENG</text></g>
<g class="wm" transform="translate(252,136.45)"><g class="wk"><path d="M0 0H5.5L0 6.6ZM6 0H10.7L6 6.4ZM6 6.9H10.7L6.2 13.4ZM0 7.3L5.6 13.4H0Z"/><text class="zh" x="12.6" y="10.2" transform="translate(0,-0.55) scale(1,1.135)" textLength="22.7" lengthAdjust="spacingAndGlyphs">智昇</text></g><text class="en" x="0.2" y="18.7" textLength="35" lengthAdjust="spacing">ZHISHENG</text></g>
<g class="wm" transform="translate(407.25,136.45)"><g class="wk"><path d="M0 0H5.5L0 6.6ZM6 0H10.7L6 6.4ZM6 6.9H10.7L6.2 13.4ZM0 7.3L5.6 13.4H0Z"/><text class="zh" x="12.6" y="10.2" transform="translate(0,-0.55) scale(1,1.135)" textLength="22.7" lengthAdjust="spacingAndGlyphs">智昇</text></g><text class="en" x="0.2" y="18.7" textLength="35" lengthAdjust="spacing">ZHISHENG</text></g>
<g class="wm" transform="translate(567,136.45)"><g class="wk"><path d="M0 0H5.5L0 6.6ZM6 0H10.7L6 6.4ZM6 6.9H10.7L6.2 13.4ZM0 7.3L5.6 13.4H0Z"/><text class="zh" x="12.6" y="10.2" transform="translate(0,-0.55) scale(1,1.135)" textLength="22.7" lengthAdjust="spacingAndGlyphs">智昇</text></g><text class="en" x="0.2" y="18.7" textLength="35" lengthAdjust="spacing">ZHISHENG</text></g>
<g class="wm" transform="translate(722.1,136.45)"><g class="wk"><path d="M0 0H5.5L0 6.6ZM6 0H10.7L6 6.4ZM6 6.9H10.7L6.2 13.4ZM0 7.3L5.6 13.4H0Z"/><text class="zh" x="12.6" y="10.2" transform="translate(0,-0.55) scale(1,1.135)" textLength="22.7" lengthAdjust="spacingAndGlyphs">智昇</text></g><text class="en" x="0.2" y="18.7" textLength="35" lengthAdjust="spacing">ZHISHENG</text></g>
<g class="wm" transform="translate(881.1,136.45)"><g class="wk"><path d="M0 0H5.5L0 6.6ZM6 0H10.7L6 6.4ZM6 6.9H10.7L6.2 13.4ZM0 7.3L5.6 13.4H0Z"/><text class="zh" x="12.6" y="10.2" transform="translate(0,-0.55) scale(1,1.135)" textLength="22.7" lengthAdjust="spacingAndGlyphs">智昇</text></g><text class="en" x="0.2" y="18.7" textLength="35" lengthAdjust="spacing">ZHISHENG</text></g>
<g class="wm" transform="translate(12.9,170.7)"><g class="wk"><path d="M0 0H5.5L0 6.6ZM6 0H10.7L6 6.4ZM6 6.9H10.7L6.2 13.4ZM0 7.3L5.6 13.4H0Z"/><text class="zh" x="12.6" y="10.2" transform="translate(0,-0.55) scale(1,1.135)" textLength="22.7" lengthAdjust="spacingAndGlyphs">智昇</text></g><text class="en" x="0.2" y="18.7" textLength="35" lengthAdjust="spacing">ZHISHENG</text></g>
<g class="wm" transform="translate(172.2,170.7)"><g class="wk"><path d="M0 0H5.5L0 6.6ZM6 0H10.7L6 6.4ZM6 6.9H10.7L6.2 13.4ZM0 7.3L5.6 13.4H0Z"/><text class="zh" x="12.6" y="10.2" transform="translate(0,-0.55) scale(1,1.135)" textLength="22.7" lengthAdjust="spacingAndGlyphs">智昇</text></g><text class="en" x="0.2" y="18.7" textLength="35" lengthAdjust="spacing">ZHISHENG</text></g>
<g class="wm" transform="translate(331.9,170.7)"><g class="wk"><path d="M0 0H5.5L0 6.6ZM6 0H10.7L6 6.4ZM6 6.9H10.7L6.2 13.4ZM0 7.3L5.6 13.4H0Z"/><text class="zh" x="12.6" y="10.2" transform="translate(0,-0.55) scale(1,1.135)" textLength="22.7" lengthAdjust="spacingAndGlyphs">智昇</text></g><text class="en" x="0.2" y="18.7" textLength="35" lengthAdjust="spacing">ZHISHENG</text></g>
<g class="wm" transform="translate(487.2,170.7)"><g class="wk"><path d="M0 0H5.5L0 6.6ZM6 0H10.7L6 6.4ZM6 6.9H10.7L6.2 13.4ZM0 7.3L5.6 13.4H0Z"/><text class="zh" x="12.6" y="10.2" transform="translate(0,-0.55) scale(1,1.135)" textLength="22.7" lengthAdjust="spacingAndGlyphs">智昇</text></g><text class="en" x="0.2" y="18.7" textLength="35" lengthAdjust="spacing">ZHISHENG</text></g>
<g class="wm" transform="translate(646.3,170.7)"><g class="wk"><path d="M0 0H5.5L0 6.6ZM6 0H10.7L6 6.4ZM6 6.9H10.7L6.2 13.4ZM0 7.3L5.6 13.4H0Z"/><text class="zh" x="12.6" y="10.2" transform="translate(0,-0.55) scale(1,1.135)" textLength="22.7" lengthAdjust="spacingAndGlyphs">智昇</text></g><text class="en" x="0.2" y="18.7" textLength="35" lengthAdjust="spacing">ZHISHENG</text></g>
<g class="wm" transform="translate(801.7,170.7)"><g class="wk"><path d="M0 0H5.5L0 6.6ZM6 0H10.7L6 6.4ZM6 6.9H10.7L6.2 13.4ZM0 7.3L5.6 13.4H0Z"/><text class="zh" x="12.6" y="10.2" transform="translate(0,-0.55) scale(1,1.135)" textLength="22.7" lengthAdjust="spacingAndGlyphs">智昇</text></g><text class="en" x="0.2" y="18.7" textLength="35" lengthAdjust="spacing">ZHISHENG</text></g>
<g class="wm" transform="translate(961.1,170.7)"><g class="wk"><path d="M0 0H5.5L0 6.6ZM6 0H10.7L6 6.4ZM6 6.9H10.7L6.2 13.4ZM0 7.3L5.6 13.4H0Z"/><text class="zh" x="12.6" y="10.2" transform="translate(0,-0.55) scale(1,1.135)" textLength="22.7" lengthAdjust="spacingAndGlyphs">智昇</text></g><text class="en" x="0.2" y="18.7" textLength="35" lengthAdjust="spacing">ZHISHENG</text></g>
<g class="wm" transform="translate(92.5,201.05)"><g class="wk"><path d="M0 0H5.5L0 6.6ZM6 0H10.7L6 6.4ZM6 6.9H10.7L6.2 13.4ZM0 7.3L5.6 13.4H0Z"/><text class="zh" x="12.6" y="10.2" transform="translate(0,-0.55) scale(1,1.135)" textLength="22.7" lengthAdjust="spacingAndGlyphs">智昇</text></g><text class="en" x="0.2" y="18.7" textLength="35" lengthAdjust="spacing">ZHISHENG</text></g>
<g class="wm" transform="translate(252,201.05)"><g class="wk"><path d="M0 0H5.5L0 6.6ZM6 0H10.7L6 6.4ZM6 6.9H10.7L6.2 13.4ZM0 7.3L5.6 13.4H0Z"/><text class="zh" x="12.6" y="10.2" transform="translate(0,-0.55) scale(1,1.135)" textLength="22.7" lengthAdjust="spacingAndGlyphs">智昇</text></g><text class="en" x="0.2" y="18.7" textLength="35" lengthAdjust="spacing">ZHISHENG</text></g>
<g class="wm" transform="translate(407.25,201.05)"><g class="wk"><path d="M0 0H5.5L0 6.6ZM6 0H10.7L6 6.4ZM6 6.9H10.7L6.2 13.4ZM0 7.3L5.6 13.4H0Z"/><text class="zh" x="12.6" y="10.2" transform="translate(0,-0.55) scale(1,1.135)" textLength="22.7" lengthAdjust="spacingAndGlyphs">智昇</text></g><text class="en" x="0.2" y="18.7" textLength="35" lengthAdjust="spacing">ZHISHENG</text></g>
<g class="wm" transform="translate(567,201.05)"><g class="wk"><path d="M0 0H5.5L0 6.6ZM6 0H10.7L6 6.4ZM6 6.9H10.7L6.2 13.4ZM0 7.3L5.6 13.4H0Z"/><text class="zh" x="12.6" y="10.2" transform="translate(0,-0.55) scale(1,1.135)" textLength="22.7" lengthAdjust="spacingAndGlyphs">智昇</text></g><text class="en" x="0.2" y="18.7" textLength="35" lengthAdjust="spacing">ZHISHENG</text></g>
<g class="wm" transform="translate(722.1,201.05)"><g class="wk"><path d="M0 0H5.5L0 6.6ZM6 0H10.7L6 6.4ZM6 6.9H10.7L6.2 13.4ZM0 7.3L5.6 13.4H0Z"/><text class="zh" x="12.6" y="10.2" transform="translate(0,-0.55) scale(1,1.135)" textLength="22.7" lengthAdjust="spacingAndGlyphs">智昇</text></g><text class="en" x="0.2" y="18.7" textLength="35" lengthAdjust="spacing">ZHISHENG</text></g>
<g class="wm" transform="translate(881.1,201.05)"><g class="wk"><path d="M0 0H5.5L0 6.6ZM6 0H10.7L6 6.4ZM6 6.9H10.7L6.2 13.4ZM0 7.3L5.6 13.4H0Z"/><text class="zh" x="12.6" y="10.2" transform="translate(0,-0.55) scale(1,1.135)" textLength="22.7" lengthAdjust="spacingAndGlyphs">智昇</text></g><text class="en" x="0.2" y="18.7" textLength="35" lengthAdjust="spacing">ZHISHENG</text></g>
<g class="wm" transform="translate(12.9,235.3)"><g class="wk"><path d="M0 0H5.5L0 6.6ZM6 0H10.7L6 6.4ZM6 6.9H10.7L6.2 13.4ZM0 7.3L5.6 13.4H0Z"/><text class="zh" x="12.6" y="10.2" transform="translate(0,-0.55) scale(1,1.135)" textLength="22.7" lengthAdjust="spacingAndGlyphs">智昇</text></g><text class="en" x="0.2" y="18.7" textLength="35" lengthAdjust="spacing">ZHISHENG</text></g>
<g class="wm" transform="translate(172.2,235.3)"><g class="wk"><path d="M0 0H5.5L0 6.6ZM6 0H10.7L6 6.4ZM6 6.9H10.7L6.2 13.4ZM0 7.3L5.6 13.4H0Z"/><text class="zh" x="12.6" y="10.2" transform="translate(0,-0.55) scale(1,1.135)" textLength="22.7" lengthAdjust="spacingAndGlyphs">智昇</text></g><text class="en" x="0.2" y="18.7" textLength="35" lengthAdjust="spacing">ZHISHENG</text></g>
<g class="wm" transform="translate(331.9,235.3)"><g class="wk"><path d="M0 0H5.5L0 6.6ZM6 0H10.7L6 6.4ZM6 6.9H10.7L6.2 13.4ZM0 7.3L5.6 13.4H0Z"/><text class="zh" x="12.6" y="10.2" transform="translate(0,-0.55) scale(1,1.135)" textLength="22.7" lengthAdjust="spacingAndGlyphs">智昇</text></g><text class="en" x="0.2" y="18.7" textLength="35" lengthAdjust="spacing">ZHISHENG</text></g>
<g class="wm" transform="translate(487.2,235.3)"><g class="wk"><path d="M0 0H5.5L0 6.6ZM6 0H10.7L6 6.4ZM6 6.9H10.7L6.2 13.4ZM0 7.3L5.6 13.4H0Z"/><text class="zh" x="12.6" y="10.2" transform="translate(0,-0.55) scale(1,1.135)" textLength="22.7" lengthAdjust="spacingAndGlyphs">智昇</text></g><text class="en" x="0.2" y="18.7" textLength="35" lengthAdjust="spacing">ZHISHENG</text></g>
<g class="wm" transform="translate(646.3,235.3)"><g class="wk"><path d="M0 0H5.5L0 6.6ZM6 0H10.7L6 6.4ZM6 6.9H10.7L6.2 13.4ZM0 7.3L5.6 13.4H0Z"/><text class="zh" x="12.6" y="10.2" transform="translate(0,-0.55) scale(1,1.135)" textLength="22.7" lengthAdjust="spacingAndGlyphs">智昇</text></g><text class="en" x="0.2" y="18.7" textLength="35" lengthAdjust="spacing">ZHISHENG</text></g>
<g class="wm" transform="translate(801.7,235.3)"><g class="wk"><path d="M0 0H5.5L0 6.6ZM6 0H10.7L6 6.4ZM6 6.9H10.7L6.2 13.4ZM0 7.3L5.6 13.4H0Z"/><text class="zh" x="12.6" y="10.2" transform="translate(0,-0.55) scale(1,1.135)" textLength="22.7" lengthAdjust="spacingAndGlyphs">智昇</text></g><text class="en" x="0.2" y="18.7" textLength="35" lengthAdjust="spacing">ZHISHENG</text></g>
<g class="wm" transform="translate(961.1,235.3)"><g class="wk"><path d="M0 0H5.5L0 6.6ZM6 0H10.7L6 6.4ZM6 6.9H10.7L6.2 13.4ZM0 7.3L5.6 13.4H0Z"/><text class="zh" x="12.6" y="10.2" transform="translate(0,-0.55) scale(1,1.135)" textLength="22.7" lengthAdjust="spacingAndGlyphs">智昇</text></g><text class="en" x="0.2" y="18.7" textLength="35" lengthAdjust="spacing">ZHISHENG</text></g>
<g class="wm" transform="translate(92.5,265.65)"><g class="wk"><path d="M0 0H5.5L0 6.6ZM6 0H10.7L6 6.4ZM6 6.9H10.7L6.2 13.4ZM0 7.3L5.6 13.4H0Z"/><text class="zh" x="12.6" y="10.2" transform="translate(0,-0.55) scale(1,1.135)" textLength="22.7" lengthAdjust="spacingAndGlyphs">智昇</text></g><text class="en" x="0.2" y="18.7" textLength="35" lengthAdjust="spacing">ZHISHENG</text></g>
<g class="wm" transform="translate(252,265.65)"><g class="wk"><path d="M0 0H5.5L0 6.6ZM6 0H10.7L6 6.4ZM6 6.9H10.7L6.2 13.4ZM0 7.3L5.6 13.4H0Z"/><text class="zh" x="12.6" y="10.2" transform="translate(0,-0.55) scale(1,1.135)" textLength="22.7" lengthAdjust="spacingAndGlyphs">智昇</text></g><text class="en" x="0.2" y="18.7" textLength="35" lengthAdjust="spacing">ZHISHENG</text></g>
<g class="wm" transform="translate(407.25,265.65)"><g class="wk"><path d="M0 0H5.5L0 6.6ZM6 0H10.7L6 6.4ZM6 6.9H10.7L6.2 13.4ZM0 7.3L5.6 13.4H0Z"/><text class="zh" x="12.6" y="10.2" transform="translate(0,-0.55) scale(1,1.135)" textLength="22.7" lengthAdjust="spacingAndGlyphs">智昇</text></g><text class="en" x="0.2" y="18.7" textLength="35" lengthAdjust="spacing">ZHISHENG</text></g>
<g class="wm" transform="translate(567,265.65)"><g class="wk"><path d="M0 0H5.5L0 6.6ZM6 0H10.7L6 6.4ZM6 6.9H10.7L6.2 13.4ZM0 7.3L5.6 13.4H0Z"/><text class="zh" x="12.6" y="10.2" transform="translate(0,-0.55) scale(1,1.135)" textLength="22.7" lengthAdjust="spacingAndGlyphs">智昇</text></g><text class="en" x="0.2" y="18.7" textLength="35" lengthAdjust="spacing">ZHISHENG</text></g>
<g class="wm" transform="translate(722.1,265.65)"><g class="wk"><path d="M0 0H5.5L0 6.6ZM6 0H10.7L6 6.4ZM6 6.9H10.7L6.2 13.4ZM0 7.3L5.6 13.4H0Z"/><text class="zh" x="12.6" y="10.2" transform="translate(0,-0.55) scale(1,1.135)" textLength="22.7" lengthAdjust="spacingAndGlyphs">智昇</text></g><text class="en" x="0.2" y="18.7" textLength="35" lengthAdjust="spacing">ZHISHENG</text></g>
<g class="wm" transform="translate(881.1,265.65)"><g class="wk"><path d="M0 0H5.5L0 6.6ZM6 0H10.7L6 6.4ZM6 6.9H10.7L6.2 13.4ZM0 7.3L5.6 13.4H0Z"/><text class="zh" x="12.6" y="10.2" transform="translate(0,-0.55) scale(1,1.135)" textLength="22.7" lengthAdjust="spacingAndGlyphs">智昇</text></g><text class="en" x="0.2" y="18.7" textLength="35" lengthAdjust="spacing">ZHISHENG</text></g>
<g class="wm" transform="translate(12.9,299.9)"><g class="wk"><path d="M0 0H5.5L0 6.6ZM6 0H10.7L6 6.4ZM6 6.9H10.7L6.2 13.4ZM0 7.3L5.6 13.4H0Z"/><text class="zh" x="12.6" y="10.2" transform="translate(0,-0.55) scale(1,1.135)" textLength="22.7" lengthAdjust="spacingAndGlyphs">智昇</text></g><text class="en" x="0.2" y="18.7" textLength="35" lengthAdjust="spacing">ZHISHENG</text></g>
<g class="wm" transform="translate(172.2,299.9)"><g class="wk"><path d="M0 0H5.5L0 6.6ZM6 0H10.7L6 6.4ZM6 6.9H10.7L6.2 13.4ZM0 7.3L5.6 13.4H0Z"/><text class="zh" x="12.6" y="10.2" transform="translate(0,-0.55) scale(1,1.135)" textLength="22.7" lengthAdjust="spacingAndGlyphs">智昇</text></g><text class="en" x="0.2" y="18.7" textLength="35" lengthAdjust="spacing">ZHISHENG</text></g>
<g class="wm" transform="translate(331.9,299.9)"><g class="wk"><path d="M0 0H5.5L0 6.6ZM6 0H10.7L6 6.4ZM6 6.9H10.7L6.2 13.4ZM0 7.3L5.6 13.4H0Z"/><text class="zh" x="12.6" y="10.2" transform="translate(0,-0.55) scale(1,1.135)" textLength="22.7" lengthAdjust="spacingAndGlyphs">智昇</text></g><text class="en" x="0.2" y="18.7" textLength="35" lengthAdjust="spacing">ZHISHENG</text></g>
<g class="wm" transform="translate(487.2,299.9)"><g class="wk"><path d="M0 0H5.5L0 6.6ZM6 0H10.7L6 6.4ZM6 6.9H10.7L6.2 13.4ZM0 7.3L5.6 13.4H0Z"/><text class="zh" x="12.6" y="10.2" transform="translate(0,-0.55) scale(1,1.135)" textLength="22.7" lengthAdjust="spacingAndGlyphs">智昇</text></g><text class="en" x="0.2" y="18.7" textLength="35" lengthAdjust="spacing">ZHISHENG</text></g>
<g class="wm" transform="translate(646.3,299.9)"><g class="wk"><path d="M0 0H5.5L0 6.6ZM6 0H10.7L6 6.4ZM6 6.9H10.7L6.2 13.4ZM0 7.3L5.6 13.4H0Z"/><text class="zh" x="12.6" y="10.2" transform="translate(0,-0.55) scale(1,1.135)" textLength="22.7" lengthAdjust="spacingAndGlyphs">智昇</text></g><text class="en" x="0.2" y="18.7" textLength="35" lengthAdjust="spacing">ZHISHENG</text></g>
<g class="wm" transform="translate(801.7,299.9)"><g class="wk"><path d="M0 0H5.5L0 6.6ZM6 0H10.7L6 6.4ZM6 6.9H10.7L6.2 13.4ZM0 7.3L5.6 13.4H0Z"/><text class="zh" x="12.6" y="10.2" transform="translate(0,-0.55) scale(1,1.135)" textLength="22.7" lengthAdjust="spacingAndGlyphs">智昇</text></g><text class="en" x="0.2" y="18.7" textLength="35" lengthAdjust="spacing">ZHISHENG</text></g>
<g class="wm" transform="translate(961.1,299.9)"><g class="wk"><path d="M0 0H5.5L0 6.6ZM6 0H10.7L6 6.4ZM6 6.9H10.7L6.2 13.4ZM0 7.3L5.6 13.4H0Z"/><text class="zh" x="12.6" y="10.2" transform="translate(0,-0.55) scale(1,1.135)" textLength="22.7" lengthAdjust="spacingAndGlyphs">智昇</text></g><text class="en" x="0.2" y="18.7" textLength="35" lengthAdjust="spacing">ZHISHENG</text></g>
<g class="wm" transform="translate(92.5,330.25)"><g class="wk"><path d="M0 0H5.5L0 6.6ZM6 0H10.7L6 6.4ZM6 6.9H10.7L6.2 13.4ZM0 7.3L5.6 13.4H0Z"/><text class="zh" x="12.6" y="10.2" transform="translate(0,-0.55) scale(1,1.135)" textLength="22.7" lengthAdjust="spacingAndGlyphs">智昇</text></g><text class="en" x="0.2" y="18.7" textLength="35" lengthAdjust="spacing">ZHISHENG</text></g>
<g class="wm" transform="translate(252,330.25)"><g class="wk"><path d="M0 0H5.5L0 6.6ZM6 0H10.7L6 6.4ZM6 6.9H10.7L6.2 13.4ZM0 7.3L5.6 13.4H0Z"/><text class="zh" x="12.6" y="10.2" transform="translate(0,-0.55) scale(1,1.135)" textLength="22.7" lengthAdjust="spacingAndGlyphs">智昇</text></g><text class="en" x="0.2" y="18.7" textLength="35" lengthAdjust="spacing">ZHISHENG</text></g>
<g class="wm" transform="translate(407.25,330.25)"><g class="wk"><path d="M0 0H5.5L0 6.6ZM6 0H10.7L6 6.4ZM6 6.9H10.7L6.2 13.4ZM0 7.3L5.6 13.4H0Z"/><text class="zh" x="12.6" y="10.2" transform="translate(0,-0.55) scale(1,1.135)" textLength="22.7" lengthAdjust="spacingAndGlyphs">智昇</text></g><text class="en" x="0.2" y="18.7" textLength="35" lengthAdjust="spacing">ZHISHENG</text></g>
<g class="wm" transform="translate(567,330.25)"><g class="wk"><path d="M0 0H5.5L0 6.6ZM6 0H10.7L6 6.4ZM6 6.9H10.7L6.2 13.4ZM0 7.3L5.6 13.4H0Z"/><text class="zh" x="12.6" y="10.2" transform="translate(0,-0.55) scale(1,1.135)" textLength="22.7" lengthAdjust="spacingAndGlyphs">智昇</text></g><text class="en" x="0.2" y="18.7" textLength="35" lengthAdjust="spacing">ZHISHENG</text></g>
<g class="wm" transform="translate(722.1,330.25)"><g class="wk"><path d="M0 0H5.5L0 6.6ZM6 0H10.7L6 6.4ZM6 6.9H10.7L6.2 13.4ZM0 7.3L5.6 13.4H0Z"/><text class="zh" x="12.6" y="10.2" transform="translate(0,-0.55) scale(1,1.135)" textLength="22.7" lengthAdjust="spacingAndGlyphs">智昇</text></g><text class="en" x="0.2" y="18.7" textLength="35" lengthAdjust="spacing">ZHISHENG</text></g>
<g class="wm" transform="translate(881.1,330.25)"><g class="wk"><path d="M0 0H5.5L0 6.6ZM6 0H10.7L6 6.4ZM6 6.9H10.7L6.2 13.4ZM0 7.3L5.6 13.4H0Z"/><text class="zh" x="12.6" y="10.2" transform="translate(0,-0.55) scale(1,1.135)" textLength="22.7" lengthAdjust="spacingAndGlyphs">智昇</text></g><text class="en" x="0.2" y="18.7" textLength="35" lengthAdjust="spacing">ZHISHENG</text></g>
<g class="wm" transform="translate(12.9,364.5)"><g class="wk"><path d="M0 0H5.5L0 6.6ZM6 0H10.7L6 6.4ZM6 6.9H10.7L6.2 13.4ZM0 7.3L5.6 13.4H0Z"/><text class="zh" x="12.6" y="10.2" transform="translate(0,-0.55) scale(1,1.135)" textLength="22.7" lengthAdjust="spacingAndGlyphs">智昇</text></g><text class="en" x="0.2" y="18.7" textLength="35" lengthAdjust="spacing">ZHISHENG</text></g>
<g class="wm" transform="translate(172.2,364.5)"><g class="wk"><path d="M0 0H5.5L0 6.6ZM6 0H10.7L6 6.4ZM6 6.9H10.7L6.2 13.4ZM0 7.3L5.6 13.4H0Z"/><text class="zh" x="12.6" y="10.2" transform="translate(0,-0.55) scale(1,1.135)" textLength="22.7" lengthAdjust="spacingAndGlyphs">智昇</text></g><text class="en" x="0.2" y="18.7" textLength="35" lengthAdjust="spacing">ZHISHENG</text></g>
<g class="wm" transform="translate(331.9,364.5)"><g class="wk"><path d="M0 0H5.5L0 6.6ZM6 0H10.7L6 6.4ZM6 6.9H10.7L6.2 13.4ZM0 7.3L5.6 13.4H0Z"/><text class="zh" x="12.6" y="10.2" transform="translate(0,-0.55) scale(1,1.135)" textLength="22.7" lengthAdjust="spacingAndGlyphs">智昇</text></g><text class="en" x="0.2" y="18.7" textLength="35" lengthAdjust="spacing">ZHISHENG</text></g>
<g class="wm" transform="translate(487.2,364.5)"><g class="wk"><path d="M0 0H5.5L0 6.6ZM6 0H10.7L6 6.4ZM6 6.9H10.7L6.2 13.4ZM0 7.3L5.6 13.4H0Z"/><text class="zh" x="12.6" y="10.2" transform="translate(0,-0.55) scale(1,1.135)" textLength="22.7" lengthAdjust="spacingAndGlyphs">智昇</text></g><text class="en" x="0.2" y="18.7" textLength="35" lengthAdjust="spacing">ZHISHENG</text></g>
<g class="wm" transform="translate(646.3,364.5)"><g class="wk"><path d="M0 0H5.5L0 6.6ZM6 0H10.7L6 6.4ZM6 6.9H10.7L6.2 13.4ZM0 7.3L5.6 13.4H0Z"/><text class="zh" x="12.6" y="10.2" transform="translate(0,-0.55) scale(1,1.135)" textLength="22.7" lengthAdjust="spacingAndGlyphs">智昇</text></g><text class="en" x="0.2" y="18.7" textLength="35" lengthAdjust="spacing">ZHISHENG</text></g>
<g class="wm" transform="translate(801.7,364.5)"><g class="wk"><path d="M0 0H5.5L0 6.6ZM6 0H10.7L6 6.4ZM6 6.9H10.7L6.2 13.4ZM0 7.3L5.6 13.4H0Z"/><text class="zh" x="12.6" y="10.2" transform="translate(0,-0.55) scale(1,1.135)" textLength="22.7" lengthAdjust="spacingAndGlyphs">智昇</text></g><text class="en" x="0.2" y="18.7" textLength="35" lengthAdjust="spacing">ZHISHENG</text></g>
<g class="wm" transform="translate(961.1,364.5)"><g class="wk"><path d="M0 0H5.5L0 6.6ZM6 0H10.7L6 6.4ZM6 6.9H10.7L6.2 13.4ZM0 7.3L5.6 13.4H0Z"/><text class="zh" x="12.6" y="10.2" transform="translate(0,-0.55) scale(1,1.135)" textLength="22.7" lengthAdjust="spacingAndGlyphs">智昇</text></g><text class="en" x="0.2" y="18.7" textLength="35" lengthAdjust="spacing">ZHISHENG</text></g>
<g class="wm" transform="translate(92.5,394.85)"><g class="wk"><path d="M0 0H5.5L0 6.6ZM6 0H10.7L6 6.4ZM6 6.9H10.7L6.2 13.4ZM0 7.3L5.6 13.4H0Z"/><text class="zh" x="12.6" y="10.2" transform="translate(0,-0.55) scale(1,1.135)" textLength="22.7" lengthAdjust="spacingAndGlyphs">智昇</text></g><text class="en" x="0.2" y="18.7" textLength="35" lengthAdjust="spacing">ZHISHENG</text></g>
<g class="wm" transform="translate(252,394.85)"><g class="wk"><path d="M0 0H5.5L0 6.6ZM6 0H10.7L6 6.4ZM6 6.9H10.7L6.2 13.4ZM0 7.3L5.6 13.4H0Z"/><text class="zh" x="12.6" y="10.2" transform="translate(0,-0.55) scale(1,1.135)" textLength="22.7" lengthAdjust="spacingAndGlyphs">智昇</text></g><text class="en" x="0.2" y="18.7" textLength="35" lengthAdjust="spacing">ZHISHENG</text></g>
<g class="wm" transform="translate(407.25,394.85)"><g class="wk"><path d="M0 0H5.5L0 6.6ZM6 0H10.7L6 6.4ZM6 6.9H10.7L6.2 13.4ZM0 7.3L5.6 13.4H0Z"/><text class="zh" x="12.6" y="10.2" transform="translate(0,-0.55) scale(1,1.135)" textLength="22.7" lengthAdjust="spacingAndGlyphs">智昇</text></g><text class="en" x="0.2" y="18.7" textLength="35" lengthAdjust="spacing">ZHISHENG</text></g>
<g class="wm" transform="translate(567,394.85)"><g class="wk"><path d="M0 0H5.5L0 6.6ZM6 0H10.7L6 6.4ZM6 6.9H10.7L6.2 13.4ZM0 7.3L5.6 13.4H0Z"/><text class="zh" x="12.6" y="10.2" transform="translate(0,-0.55) scale(1,1.135)" textLength="22.7" lengthAdjust="spacingAndGlyphs">智昇</text></g><text class="en" x="0.2" y="18.7" textLength="35" lengthAdjust="spacing">ZHISHENG</text></g>
<g class="wm" transform="translate(722.1,394.85)"><g class="wk"><path d="M0 0H5.5L0 6.6ZM6 0H10.7L6 6.4ZM6 6.9H10.7L6.2 13.4ZM0 7.3L5.6 13.4H0Z"/><text class="zh" x="12.6" y="10.2" transform="translate(0,-0.55) scale(1,1.135)" textLength="22.7" lengthAdjust="spacingAndGlyphs">智昇</text></g><text class="en" x="0.2" y="18.7" textLength="35" lengthAdjust="spacing">ZHISHENG</text></g>
<g class="wm" transform="translate(881.1,394.85)"><g class="wk"><path d="M0 0H5.5L0 6.6ZM6 0H10.7L6 6.4ZM6 6.9H10.7L6.2 13.4ZM0 7.3L5.6 13.4H0Z"/><text class="zh" x="12.6" y="10.2" transform="translate(0,-0.55) scale(1,1.135)" textLength="22.7" lengthAdjust="spacingAndGlyphs">智昇</text></g><text class="en" x="0.2" y="18.7" textLength="35" lengthAdjust="spacing">ZHISHENG</text></g>
<g class="wm" transform="translate(12.9,429.1)"><g class="wk"><path d="M0 0H5.5L0 6.6ZM6 0H10.7L6 6.4ZM6 6.9H10.7L6.2 13.4ZM0 7.3L5.6 13.4H0Z"/><text class="zh" x="12.6" y="10.2" transform="translate(0,-0.55) scale(1,1.135)" textLength="22.7" lengthAdjust="spacingAndGlyphs">智昇</text></g><text class="en" x="0.2" y="18.7" textLength="35" lengthAdjust="spacing">ZHISHENG</text></g>
<g class="wm" transform="translate(172.2,429.1)"><g class="wk"><path d="M0 0H5.5L0 6.6ZM6 0H10.7L6 6.4ZM6 6.9H10.7L6.2 13.4ZM0 7.3L5.6 13.4H0Z"/><text class="zh" x="12.6" y="10.2" transform="translate(0,-0.55) scale(1,1.135)" textLength="22.7" lengthAdjust="spacingAndGlyphs">智昇</text></g><text class="en" x="0.2" y="18.7" textLength="35" lengthAdjust="spacing">ZHISHENG</text></g>
<g class="wm" transform="translate(331.9,429.1)"><g class="wk"><path d="M0 0H5.5L0 6.6ZM6 0H10.7L6 6.4ZM6 6.9H10.7L6.2 13.4ZM0 7.3L5.6 13.4H0Z"/><text class="zh" x="12.6" y="10.2" transform="translate(0,-0.55) scale(1,1.135)" textLength="22.7" lengthAdjust="spacingAndGlyphs">智昇</text></g><text class="en" x="0.2" y="18.7" textLength="35" lengthAdjust="spacing">ZHISHENG</text></g>
<g class="wm" transform="translate(487.2,429.1)"><g class="wk"><path d="M0 0H5.5L0 6.6ZM6 0H10.7L6 6.4ZM6 6.9H10.7L6.2 13.4ZM0 7.3L5.6 13.4H0Z"/><text class="zh" x="12.6" y="10.2" transform="translate(0,-0.55) scale(1,1.135)" textLength="22.7" lengthAdjust="spacingAndGlyphs">智昇</text></g><text class="en" x="0.2" y="18.7" textLength="35" lengthAdjust="spacing">ZHISHENG</text></g>
<g class="wm" transform="translate(646.3,429.1)"><g class="wk"><path d="M0 0H5.5L0 6.6ZM6 0H10.7L6 6.4ZM6 6.9H10.7L6.2 13.4ZM0 7.3L5.6 13.4H0Z"/><text class="zh" x="12.6" y="10.2" transform="translate(0,-0.55) scale(1,1.135)" textLength="22.7" lengthAdjust="spacingAndGlyphs">智昇</text></g><text class="en" x="0.2" y="18.7" textLength="35" lengthAdjust="spacing">ZHISHENG</text></g>
<g class="wm" transform="translate(801.7,429.1)"><g class="wk"><path d="M0 0H5.5L0 6.6ZM6 0H10.7L6 6.4ZM6 6.9H10.7L6.2 13.4ZM0 7.3L5.6 13.4H0Z"/><text class="zh" x="12.6" y="10.2" transform="translate(0,-0.55) scale(1,1.135)" textLength="22.7" lengthAdjust="spacingAndGlyphs">智昇</text></g><text class="en" x="0.2" y="18.7" textLength="35" lengthAdjust="spacing">ZHISHENG</text></g>
<g class="wm" transform="translate(961.1,429.1)"><g class="wk"><path d="M0 0H5.5L0 6.6ZM6 0H10.7L6 6.4ZM6 6.9H10.7L6.2 13.4ZM0 7.3L5.6 13.4H0Z"/><text class="zh" x="12.6" y="10.2" transform="translate(0,-0.55) scale(1,1.135)" textLength="22.7" lengthAdjust="spacingAndGlyphs">智昇</text></g><text class="en" x="0.2" y="18.7" textLength="35" lengthAdjust="spacing">ZHISHENG</text></g>
</g>
</svg></body></html>
